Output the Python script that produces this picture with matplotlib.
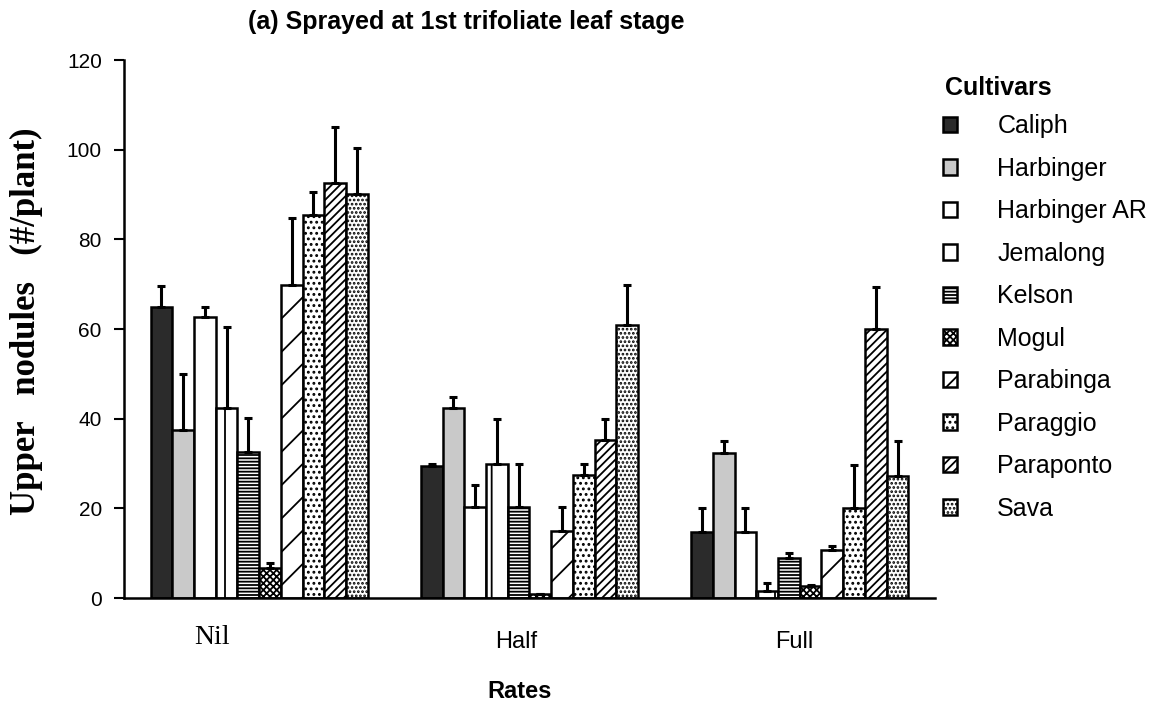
import numpy as np
import matplotlib
matplotlib.use("Agg")
import matplotlib.pyplot as plt

rates = ["Nil", "Half", "Full"]
cultivars = ["Caliph", "Harbinger", "Harbinger AR", "Jemalong", "Kelson",
             "Mogul", "Parabinga", "Paraggio", "Paraponto", "Sava"]
# values per cultivar: [Nil, Half, Full]
means = {
    "Caliph":       [65.0, 29.4, 14.8],
    "Harbinger":    [37.5, 42.4, 32.3],
    "Harbinger AR": [62.7, 20.2, 14.8],
    "Jemalong":     [42.4, 29.9, 1.6],
    "Kelson":       [32.5, 20.4, 8.9],
    "Mogul":        [6.6, 1.0, 2.7],
    "Parabinga":    [69.8, 14.9, 10.6],
    "Paraggio":     [85.4, 27.4, 20.1],
    "Paraponto":    [92.5, 35.2, 60.0],
    "Sava":         [90.1, 60.9, 27.3],
}
errors = {
    "Caliph":       [4.7, 0.6, 5.3],
    "Harbinger":    [12.5, 2.4, 2.7],
    "Harbinger AR": [2.3, 4.9, 5.3],
    "Jemalong":     [18.0, 10.0, 1.8],
    "Kelson":       [7.7, 9.4, 1.1],
    "Mogul":        [1.3, 0.0, 0.3],
    "Parabinga":    [14.9, 5.4, 1.1],
    "Paraggio":     [5.2, 2.4, 9.6],
    "Paraponto":    [12.6, 4.7, 9.4],
    "Sava":         [10.2, 8.9, 7.7],
}

styles = {
    "Caliph":       dict(fc="#2b2b2b", hatch=None),
    "Harbinger":    dict(fc="#c9c9c9", hatch=None),
    "Harbinger AR": dict(fc="white", hatch=None),
    "Jemalong":     dict(fc="white", hatch="|"),
    "Kelson":       dict(fc="white", hatch="-----"),
    "Mogul":        dict(fc="white", hatch="xxxxx"),
    "Parabinga":    dict(fc="white", hatch="/"),
    "Paraggio":     dict(fc="white", hatch="..."),
    "Paraponto":    dict(fc="white", hatch="////"),
    "Sava":         dict(fc="white", hatch="...."),
}

fig = plt.figure(figsize=(11.57, 7.01), dpi=100)
ax = fig.add_axes([0.1072, 0.1469, 0.808 - 0.1072, 0.9144 - 0.1469])

x = np.arange(len(rates))
w = 0.0804
n = len(cultivars)
plt.rcParams['hatch.linewidth'] = 1.3
for i, c in enumerate(cultivars):
    pos = x + (i - (n - 1) / 2) * w
    st = styles[c]
    ax.bar(pos, means[c], width=w, color=st["fc"], edgecolor="black",
           linewidth=1.8, hatch=st["hatch"], label=c, zorder=2)
    ax.errorbar(pos, means[c], yerr=[np.zeros(len(rates)), errors[c]],
                fmt="none", ecolor="black", elinewidth=2.2, capsize=3,
                capthick=2.2, zorder=3)

ax.set_xlim(-0.5, 2.5)
ax.set_ylim(0, 120)
ax.set_yticks(np.arange(0, 121, 20))
ax.tick_params(axis="y", labelsize=15, length=7, width=1.5, pad=9)
for lbl in ax.get_yticklabels():
    lbl.set_family("Liberation Sans")

ax.set_xticks([-0.174, 0.95, 1.98])
ax.set_xticklabels(rates)
ax.tick_params(axis="x", length=0, pad=24)
xt = ax.get_xticklabels()
xt[0].set_family("Liberation Serif")
xt[0].set_fontsize(20)
xt[0].set_y(0.012)
for t in xt[1:]:
    t.set_family("Liberation Sans")
    t.set_fontsize(17)

for s in ["top", "right"]:
    ax.spines[s].set_visible(False)
for s in ["left", "bottom"]:
    ax.spines[s].set_linewidth(1.8)

ax.set_ylabel("Upper   nodules   (#/plant)", family="Liberation Serif",
              fontweight="bold", fontsize=25)
ax.yaxis.set_label_coords(-0.100, 0.515)
ax.set_xlabel("Rates", family="Liberation Sans", fontweight="bold",
              fontsize=17)
ax.xaxis.set_label_coords(0.488, -0.152)

fig.text(0.403, 0.968, "(a) Sprayed at 1st trifoliate leaf stage",
         family="Liberation Sans", fontweight="bold", fontsize=18,
         ha="center", va="center")

fig.text(945 / 1157, 1 - 88 / 701, "Cultivars", family="Liberation Sans",
         fontweight="bold", fontsize=18, ha="left", va="center")

leg = ax.legend(loc="upper left", bbox_to_anchor=(0.982, 0.941), frameon=False,
                handlelength=0.58, handleheight=0.58,
                handletextpad=1.6, labelspacing=0.74,
                prop=dict(family="Liberation Sans", size=18))

fig.savefig("out.png", dpi=100)
